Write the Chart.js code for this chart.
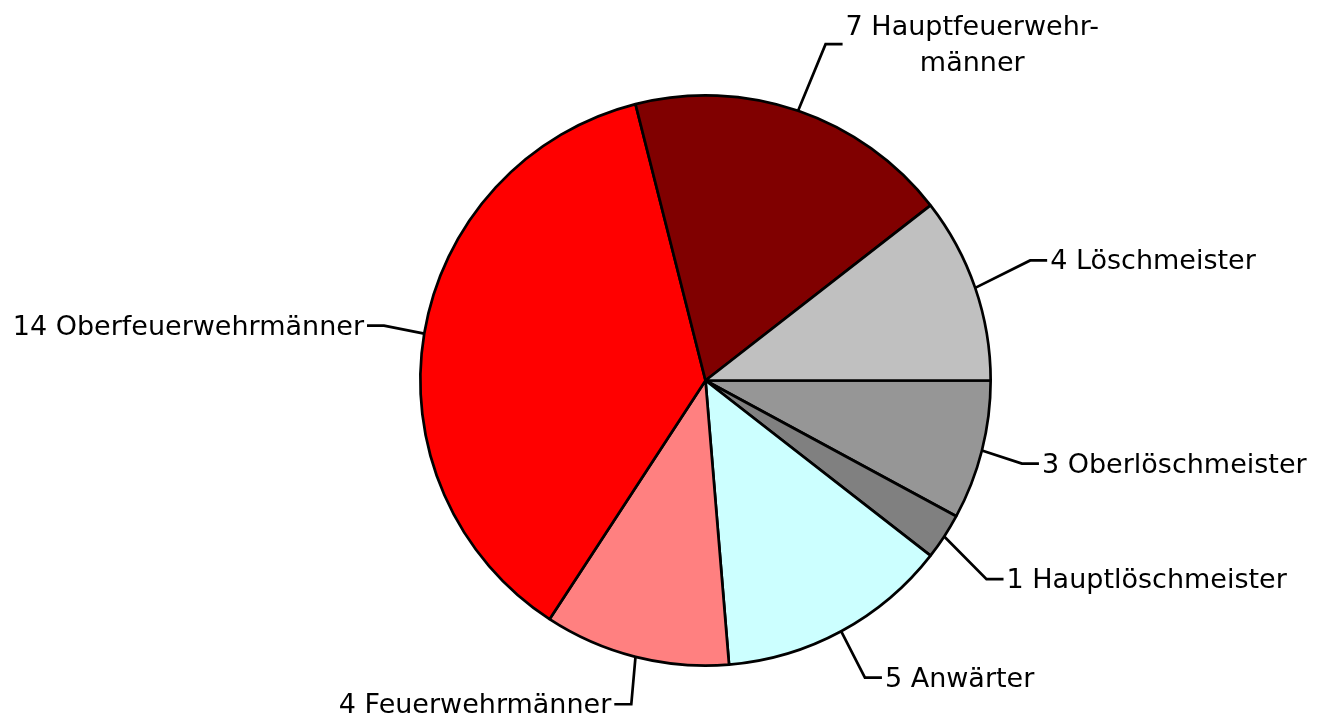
<!DOCTYPE html>
<html>
<head>
<meta charset="utf-8">
<script src="https://cdn.jsdelivr.net/npm/chart.js@4/dist/chart.umd.min.js"></script>
<style>
  html, body { margin: 0; padding: 0; background: #fff; }
  #wrap { width: 1323px; height: 717px; }
</style>
</head>
<body>
<div id="wrap"><canvas id="myChartDienstgrade"></canvas></div>
<script>
// Dienstgrade, im Uhrzeigersinn ab 3 Uhr
const dienstgrade = [
    'Oberlöschmeister',
    'Hauptlöschmeister',
    'Anwärter',
    'Feuerwehrmänner',
    'Oberfeuerwehrmänner',
    ['Hauptfeuerwehr-', 'männer'],
    'Löschmeister'
];
const anzahl = [3, 1, 5, 4, 14, 7, 4];
const farben = ['#969696', '#808080', '#CCFFFF', '#FF8080', '#FF0000', '#800000', '#C0C0C0'];

// Führungslinien: Länge über den Rand hinaus und kleine Drehung (Grad)
const leaderLen = [42, 59, 52, 47, 41, 72, 61];
const leaderTurn = [0.5, 2.1, 0.2, -1.3, 0.2, 0.7, -1.35];

// Plugin für Beschriftungen mit Führungslinien
const labelLines = {
    id: 'labelLines',
    afterDatasetsDraw(chart, args, opts) {
        const ctx = chart.ctx;
        const meta = chart.getDatasetMeta(0);
        ctx.save();
        ctx.font = opts.size + 'px "DejaVu Sans", Verdana, sans-serif';
        ctx.strokeStyle = '#000';
        ctx.fillStyle = '#000';
        ctx.lineWidth = 2.7;
        ctx.textBaseline = 'middle';
        meta.data.forEach((arc, i) => {
            const p = arc.getProps(['x', 'y', 'startAngle', 'endAngle', 'outerRadius'], true);
            const mid = (p.startAngle + p.endAngle) / 2;
            const x0 = p.x + Math.cos(mid) * p.outerRadius;
            const y0 = p.y + Math.sin(mid) * p.outerRadius;
            const a1 = mid + opts.leaderTurn[i] * Math.PI / 180;
            const r1 = p.outerRadius + opts.leaderLen[i];
            const x1 = p.x + Math.cos(a1) * r1;
            const y1 = p.y + Math.sin(a1) * r1;
            const dir = Math.cos(mid) >= 0 ? 1 : -1;
            const x2 = x1 + dir * 17;
            ctx.beginPath();
            ctx.moveTo(x0, y0);
            ctx.lineTo(x1, y1);
            ctx.lineTo(x2, y1);
            ctx.stroke();

            let lines = chart.data.labels[i];
            lines = Array.isArray(lines) ? lines.slice() : [lines];
            lines[0] = anzahl[i] + ' ' + lines[0];
            const widths = lines.map(l => ctx.measureText(l).width);
            const maxW = Math.max(...widths);
            const lh = 36;
            const top = y1 + 2 - (lines.length - 1) * lh / 2;
            const left = dir > 0 ? x2 + 3 : x2 - 3 - maxW;
            ctx.textAlign = 'center';
            lines.forEach((l, k) => {
                const cx = lines.length > 1 ? left + maxW / 2 : left + widths[k] / 2;
                ctx.fillText(l, cx, top + k * lh);
            });
        });
        ctx.restore();
    }
};

const ctxDienstgrade = document.getElementById('myChartDienstgrade').getContext('2d');
const myChartDienstgrade = new Chart(ctxDienstgrade, {
    type: 'pie',
    data: {
        labels: dienstgrade,
        datasets: [{
            data: anzahl,
            backgroundColor: farben,
            borderColor: '#000',
            borderWidth: 2.7
        }]
    },
    options: {
        responsive: true,
        maintainAspectRatio: false,
        animation: false,
        rotation: 90,
        layout: { padding: { left: 419, right: 331, top: 94, bottom: 50 } },
        plugins: {
            legend: { display: false },
            tooltip: { enabled: false },
            labelLines: { size: 27, leaderLen: leaderLen, leaderTurn: leaderTurn }
        }
    },
    plugins: [labelLines]
});
</script>
</body>
</html>
